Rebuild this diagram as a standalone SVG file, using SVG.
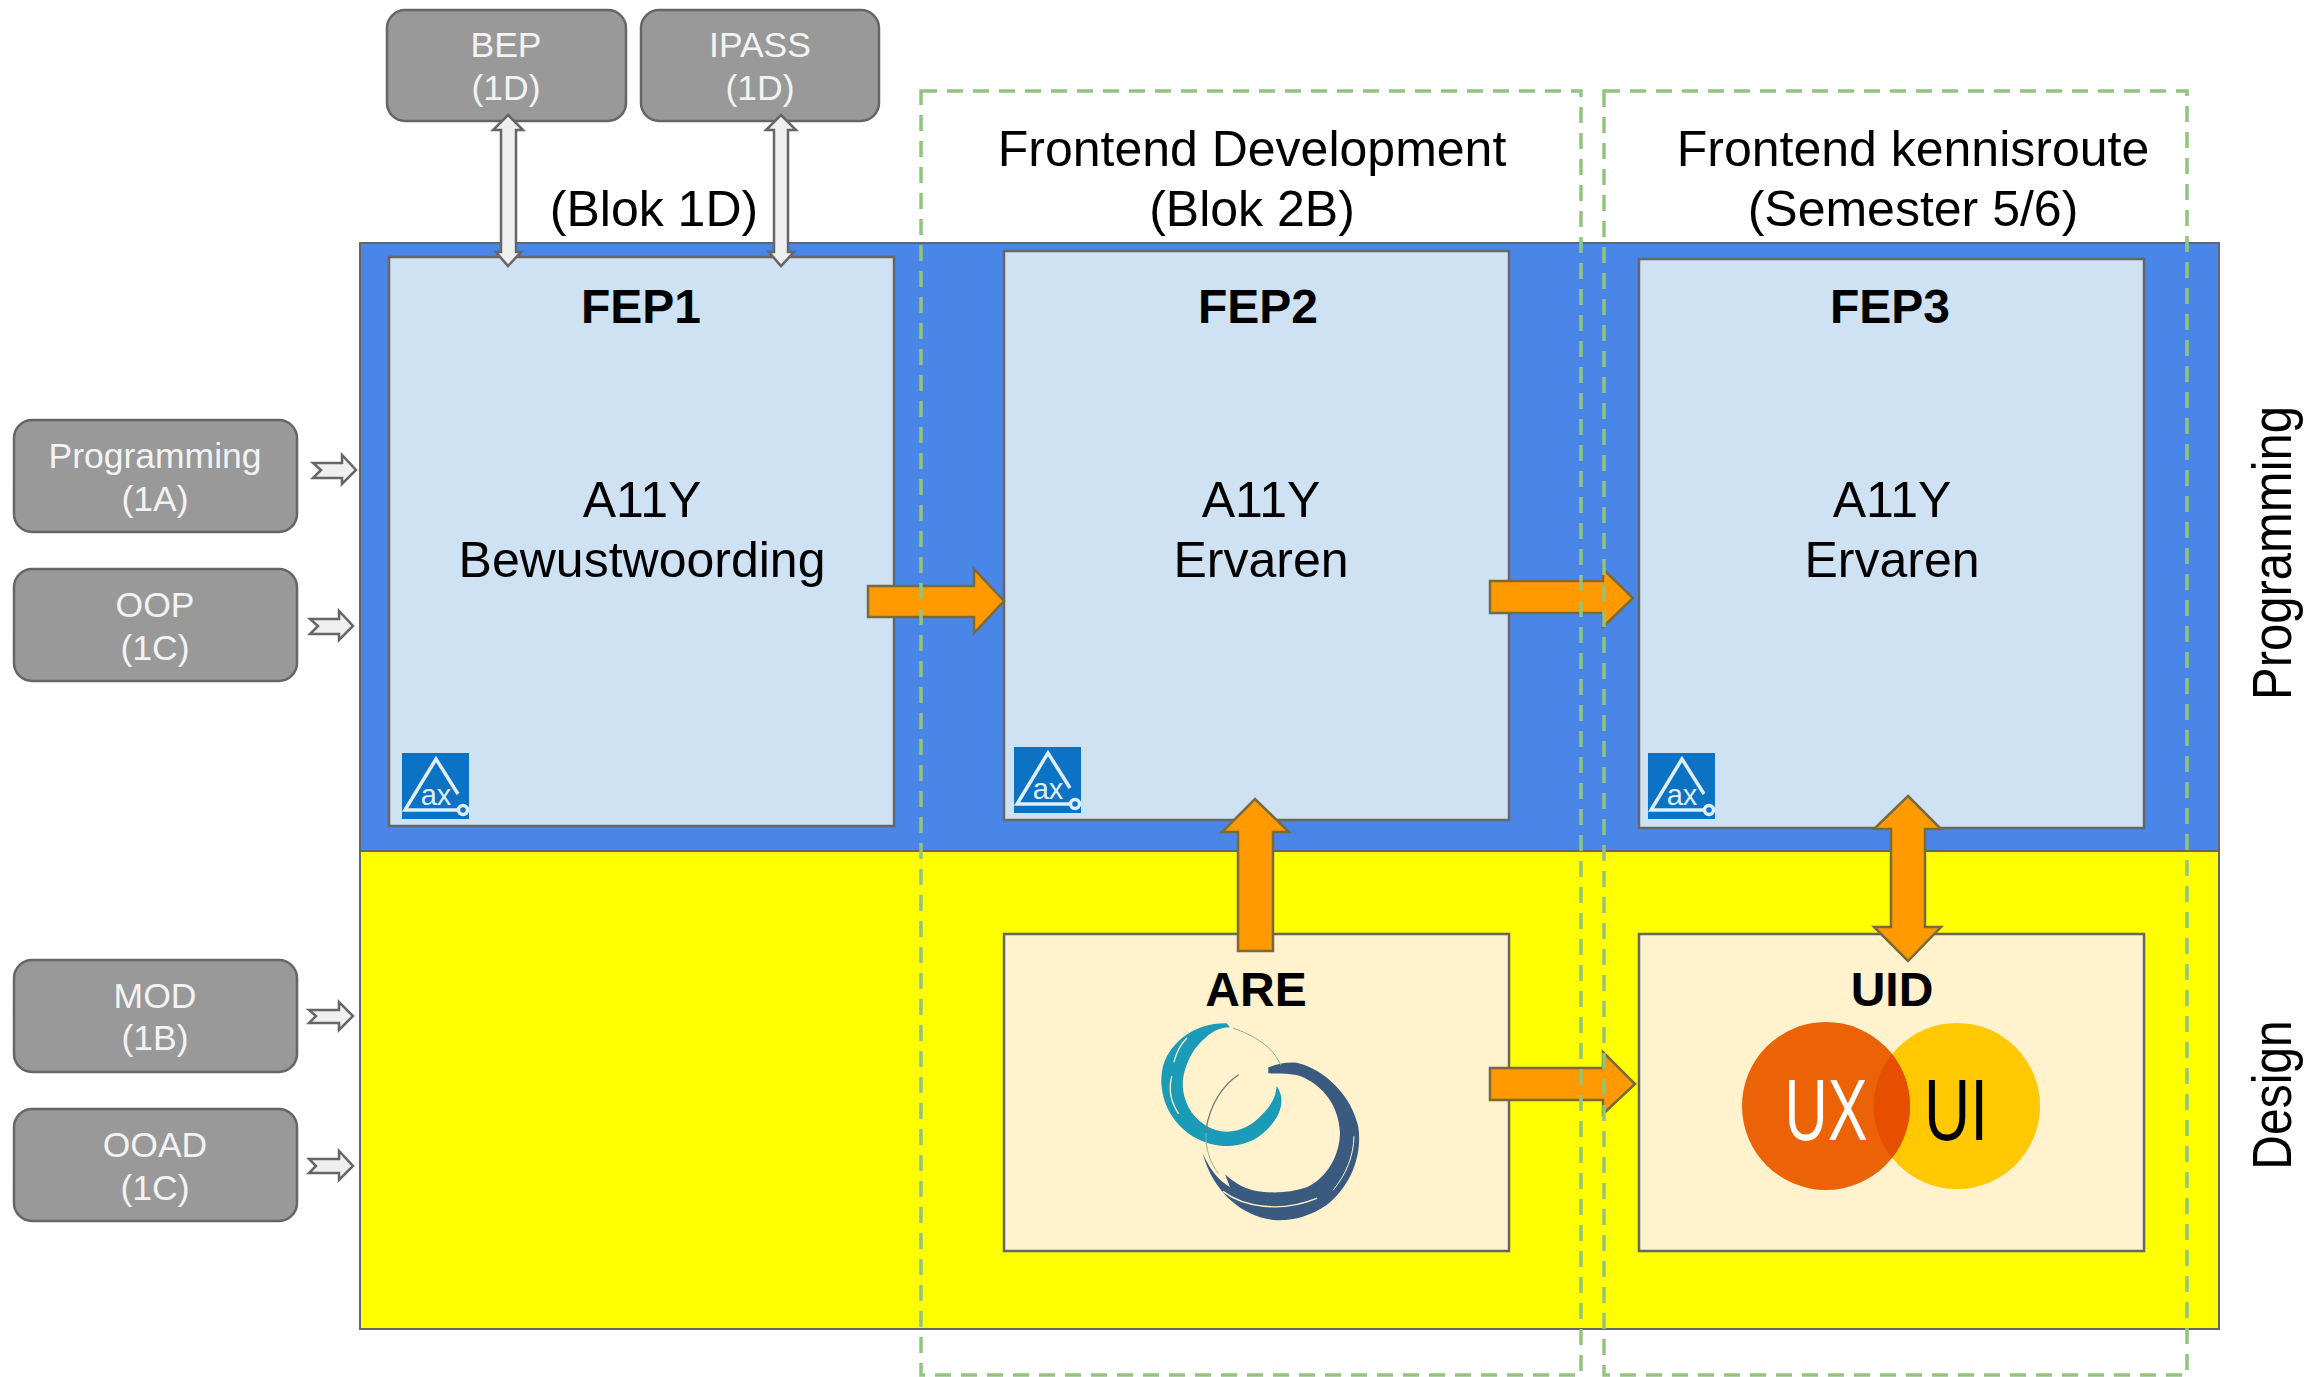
<svg xmlns="http://www.w3.org/2000/svg" width="2323" height="1377" viewBox="0 0 2323 1377">
<style>
text{font-family:"Liberation Sans",Arial,sans-serif;text-anchor:middle;fill:#000}
.g{fill:#999;stroke:#666;stroke-width:2.5}
.gt{font-size:35.5px;fill:#f3f3f3}
.fep{fill:#cfe2f3;stroke:#666;stroke-width:2.5}
.cream{fill:#fff2cc;stroke:#666;stroke-width:2.5}
.h{font-size:50px}
.b{font-size:48px;font-weight:bold}
.o{fill:#f90;stroke:#7a6a3a;stroke-width:2.5}
.l{fill:#efefef;stroke:#666;stroke-width:2.5}
.d{fill:none;stroke:#93c47d;stroke-width:3.5;stroke-dasharray:16 10}
.lg{fill:none;stroke:#dff0fb;stroke-width:3.5}
.ax{font-size:29px;fill:#dff0fb}
</style>
<rect width="2323" height="1377" fill="#fff"/>
<g id="band-programming"><rect x="360" y="243" width="1859" height="608" fill="#4a86e8" stroke="#666" stroke-width="2"/></g>
<g id="band-design"><rect x="360" y="851" width="1859" height="478" fill="#ff0" stroke="#666" stroke-width="2"/></g>
<g id="label-blok1d"><text class="h" x="654" y="226">(Blok 1D)</text></g>
<g id="label-blok2b"><text class="h" x="1252" y="166">Frontend Development</text><text class="h" x="1252" y="226">(Blok 2B)</text></g>
<g id="label-semester"><text class="h" x="1913" y="166">Frontend kennisroute</text><text class="h" x="1913" y="226">(Semester 5/6)</text></g>
<g id="label-programming"><text style="font-size:49px" transform="translate(2291 553) rotate(-90) scale(1 1.15)">Programming</text></g>
<g id="label-design"><text style="font-size:48px" transform="translate(2291 1095) rotate(-90) scale(1 1.15)">Design</text></g>
<g id="bep"><rect class="g" x="387" y="10" width="239" height="111" rx="18"/><text class="gt" x="506" y="57">BEP</text><text class="gt" x="506" y="100">(1D)</text></g>
<g id="ipass"><rect class="g" x="641" y="10" width="238" height="111" rx="18"/><text class="gt" x="760" y="57">IPASS</text><text class="gt" x="760" y="100">(1D)</text></g>
<g id="programming"><rect class="g" x="14" y="420" width="283" height="112" rx="18"/><text class="gt" x="155" y="468">Programming</text><text class="gt" x="155" y="511">(1A)</text></g>
<g id="oop"><rect class="g" x="14" y="569" width="283" height="112" rx="18"/><text class="gt" x="155" y="617">OOP</text><text class="gt" x="155" y="660">(1C)</text></g>
<g id="mod"><rect class="g" x="14" y="960" width="283" height="112" rx="18"/><text class="gt" x="155" y="1008">MOD</text><text class="gt" x="155" y="1050">(1B)</text></g>
<g id="ooad"><rect class="g" x="14" y="1109" width="283" height="112" rx="18"/><text class="gt" x="155" y="1157">OOAD</text><text class="gt" x="155" y="1200">(1C)</text></g>
<g id="fep1"><rect class="fep" x="389" y="257" width="505" height="569"/><text class="b" x="641" y="323">FEP1</text><text class="h" x="642" y="517">A11Y</text><text class="h" x="642" y="577">Bewustwoording</text>
<g transform="translate(402 753)"><rect width="67" height="66" fill="#0b72c4"/><path class="lg" d="M56 41 L34 6 L3 57 H55"/><circle class="lg" cx="61" cy="57" r="4.5"/><text class="ax" x="34" y="52">ax</text></g></g>
<g id="fep2"><rect class="fep" x="1004" y="251" width="505" height="569"/><text class="b" x="1258" y="323">FEP2</text><text class="h" x="1261" y="517">A11Y</text><text class="h" x="1261" y="577">Ervaren</text>
<g transform="translate(1014 747)"><rect width="67" height="66" fill="#0b72c4"/><path class="lg" d="M56 41 L34 6 L3 57 H55"/><circle class="lg" cx="61" cy="57" r="4.5"/><text class="ax" x="34" y="52">ax</text></g></g>
<g id="fep3"><rect class="fep" x="1639" y="259" width="505" height="569"/><text class="b" x="1890" y="323">FEP3</text><text class="h" x="1892" y="517">A11Y</text><text class="h" x="1892" y="577">Ervaren</text>
<g transform="translate(1648 753)"><rect width="67" height="66" fill="#0b72c4"/><path class="lg" d="M56 41 L34 6 L3 57 H55"/><circle class="lg" cx="61" cy="57" r="4.5"/><text class="ax" x="34" y="52">ax</text></g></g>
<g id="are"><rect class="cream" x="1004" y="934" width="505" height="317"/><text class="b" x="1256" y="1006">ARE</text>
<g transform="translate(1130 990) scale(.3333)">
<path fill="#3b5a80" d="M415 232 C440 222 470 215 500 218 C590 240 665 320 685 410 C698 500 660 590 590 645 C540 680 480 695 430 690 C340 680 250 610 218 490 C240 540 265 570 300 592 L285 553 C320 585 350 598 380 603 C420 610 480 610 530 592 C590 565 628 500 630 430 C628 350 580 285 510 258 C480 248 440 252 415 250 Z"/>
<path fill="#1a9bb8" d="M290 100 C200 98 125 150 100 225 C80 300 110 390 190 440 C260 480 350 480 410 420 C450 380 470 330 440 288 C438 320 425 345 395 375 C355 420 285 445 225 405 C170 370 145 300 165 240 C175 205 195 170 225 145 C245 125 270 112 300 112 Z"/>
<g fill="none" stroke-linecap="round">
<path stroke="#fff2cc" stroke-width="4" d="M125 260 C115 300 125 340 145 370"/>
<path stroke="#fff2cc" stroke-width="4" d="M170 145 C150 165 140 185 132 215"/>
<path stroke="#fff2cc" stroke-width="4" d="M280 605 C340 650 450 670 560 625"/>
<path stroke="#fff2cc" stroke-width="3" d="M672 440 C670 500 650 550 610 600"/>
<path stroke="#8fa8a0" stroke-width="3" d="M310 115 C370 135 430 170 452 225"/>
<path stroke="#777" stroke-width="4" d="M325 255 C280 285 240 340 228 420"/>
<path stroke="#a8a89a" stroke-width="3" d="M228 430 C225 470 240 520 265 550"/>
</g></g></g>
<g id="uid"><rect class="cream" x="1639" y="934" width="505" height="317"/><text class="b" x="1892" y="1006">UID</text>
<circle cx="1957" cy="1106" r="83" fill="#ffc800"/><circle cx="1826" cy="1106" r="84" fill="#ec6206"/>
<path fill="#e64e00" d="M1892 1054 A84 84 0 0 1 1892 1158 A83 83 0 0 1 1892 1054 Z"/>
<text x="1826" y="1140" font-size="87" style="fill:#fff" textLength="83" lengthAdjust="spacingAndGlyphs">UX</text>
<text x="1956" y="1140" font-size="87" textLength="64" lengthAdjust="spacingAndGlyphs">UI</text></g>
<g id="connectors">
<path class="l" d="M313 463H342V455L356 470L342 484V478H313L321 470Z"/>
<path class="l" d="M310 619H339V611L353 626L339 640V634H310L318 626Z"/>
<path class="l" d="M309 1010H339V1002L353 1016L339 1030V1023H309L316 1016Z"/>
<path class="l" d="M309 1159H339V1151L353 1166L339 1180V1173H309L316 1166Z"/>
<path class="l" d="M508 115L523 130H516V252H521L508 266L496 252H501V130H493Z"/>
<path class="l" d="M781 115L796 130H788V252H794L781 266L769 252H774V130H766Z"/>
<path class="o" d="M868 586H974V569L1004 601L974 633V617H868Z"/>
<path class="o" d="M1490 581H1603V569L1633 598L1603 627V613H1490Z"/>
<path class="o" d="M1238 951V832H1222L1255 799L1289 832H1273V951Z"/>
<path class="o" d="M1908 796L1941 829H1925V927H1941L1908 961L1874 927H1891V829H1874Z"/>
<path class="o" d="M1490 1068H1603V1052L1635 1084L1603 1114V1100H1490Z"/>
</g>
<g id="frames">
<rect class="d" x="921" y="91" width="660" height="1284"/>
<rect class="d" x="1604" y="91" width="583" height="1284"/>
</g>
</svg>
